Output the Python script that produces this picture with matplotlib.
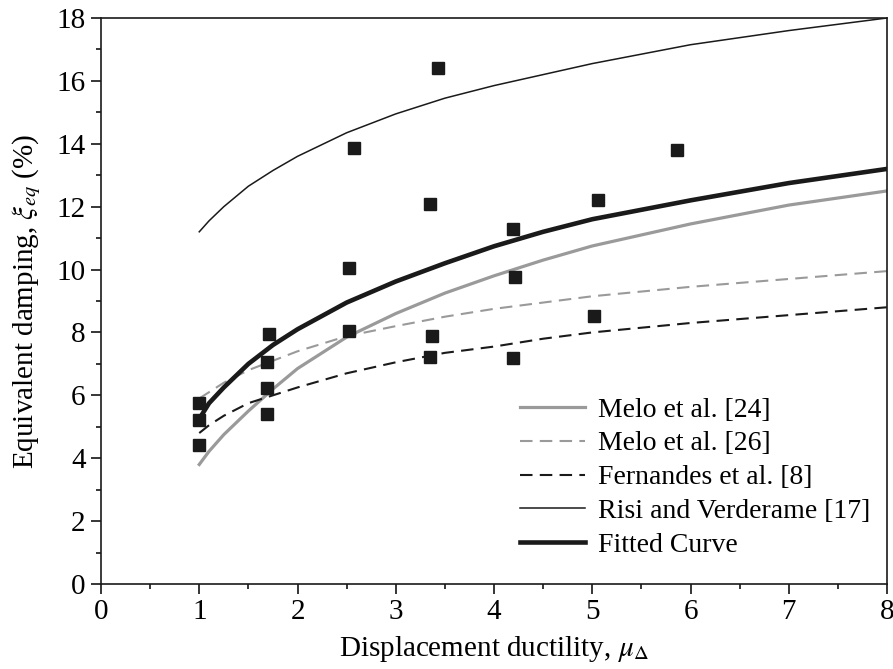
import matplotlib
matplotlib.use("Agg")
import matplotlib.pyplot as plt

plt.rcParams['font.family'] = ['Liberation Serif', 'DejaVu Serif']
plt.rcParams['mathtext.fontset'] = 'stix'

# 试验数据点 (mu, xi)
test_mu = [1.0, 1.0, 1.0, 1.69, 1.69, 1.69, 1.71, 2.52, 2.52, 2.57,
           3.35, 3.35, 3.37, 3.43, 4.19, 4.21, 4.19, 5.02, 5.06, 5.86]
test_xi = [5.77, 5.21, 4.41, 7.05, 6.22, 5.40, 7.95, 8.05, 10.05, 13.86,
           12.08, 7.21, 7.90, 16.40, 11.28, 9.75, 7.18, 8.52, 12.21, 13.80]

# 曲线取样点
mu_curve = [1.0, 1.1, 1.25, 1.5, 1.75, 2.0, 2.5, 3.0, 3.5, 4.0, 4.5, 5.0, 6.0, 7.0, 8.0]
melo24 = [3.8, 4.22, 4.75, 5.5, 6.2, 6.85, 7.85, 8.6, 9.25, 9.8, 10.3, 10.75, 11.45, 12.05, 12.5]
melo26 = [5.9, 6.1, 6.4, 6.8, 7.1, 7.4, 7.88, 8.2, 8.5, 8.75, 8.95, 9.15, 9.45, 9.7, 9.95]
fernandes = [4.8, 5.05, 5.35, 5.75, 6.0, 6.25, 6.7, 7.05, 7.35, 7.55, 7.8, 8.0, 8.3, 8.55, 8.8]
risi = [11.2, 11.55, 12.0, 12.65, 13.15, 13.6, 14.35, 14.95, 15.45, 15.85, 16.2, 16.55, 17.15, 17.6, 18.0]
fitted = [5.25, 5.75, 6.25, 7.0, 7.6, 8.1, 8.95, 9.62, 10.2, 10.74, 11.2, 11.6, 12.2, 12.75, 13.2]

grey = "#9a9a9a"
black = "#1a1a1a"

fig = plt.figure(figsize=(8.93, 6.69), dpi=100)
ax = fig.add_axes([0.1131, 0.1271, 0.8802, 0.846])

ax.plot(mu_curve, melo24, color=grey, lw=2.3, label="Melo et al. [24]")
ax.plot(mu_curve, melo26, color=grey, lw=1.5, dashes=(6, 3.5), label="Melo et al. [26]")
ax.plot(mu_curve, fernandes, color=black, lw=1.5, dashes=(6, 3.5), label="Fernandes et al. [8]")
ax.plot(mu_curve, risi, color=black, lw=1.1, label="Risi and Verderame [17]")
ax.plot(mu_curve, fitted, color=black, lw=3.3, label="Fitted Curve")
ax.plot(test_mu, test_xi, ls="none", marker="s", ms=8, color=black, zorder=5)

ax.set_xlim(0, 8)
ax.set_ylim(0, 18)
ax.set_xticks(range(0, 9))
ax.set_yticks(range(0, 19, 2))
ax.set_xticks([i + 0.5 for i in range(8)], minor=True)
ax.set_yticks(range(1, 18, 2), minor=True)
ax.tick_params(axis="both", which="major", direction="out", length=7, width=1.1,
               labelsize=21, top=False, right=False, pad=4)
ax.tick_params(axis="both", which="minor", direction="out", length=3.5, width=1.1,
               top=False, right=False)
for s in ax.spines.values():
    s.set_linewidth(1.2)
    s.set_color(black)

ax.set_xlabel(r"Displacement ductility, $\mu_{\mathit{\Delta}}$", fontsize=21, labelpad=6)
ax.set_ylabel(r"Equivalent damping, $\xi_{eq}$ (%)", fontsize=21, labelpad=10)

ax.legend(loc="lower right", frameon=False, fontsize=20, handlelength=2.34,
          handletextpad=0.47, labelspacing=0.30, borderaxespad=0.4,
          bbox_to_anchor=(1.0064, 0.007))

fig.savefig("out.png", dpi=100)
